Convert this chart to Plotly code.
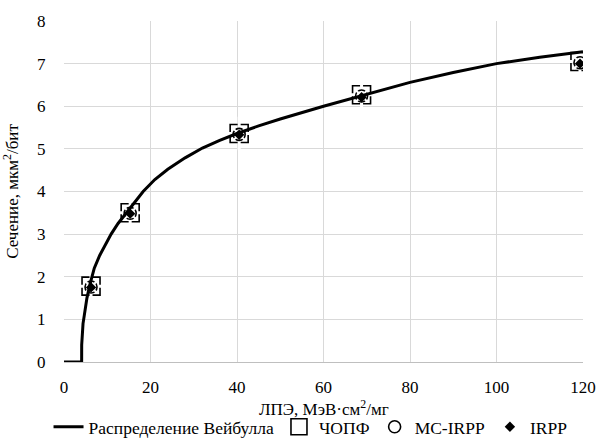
import plotly.graph_objects as go

# Weibull curve points
curve_x = [0, 4.08, 4.09, 4.2, 4.4, 4.7, 5.3, 6.0, 7.0, 8.25, 9.5, 10.9, 12.5, 14.4, 16.3, 18.3,
           21, 24, 28, 32, 36, 40, 45, 50, 60, 70, 80, 90, 100, 110, 120]
curve_y = [0, 0, 0.4, 0.7, 0.9, 1.1, 1.5, 1.82, 2.2, 2.5, 2.75, 3.0, 3.25, 3.5, 3.75, 4.0,
           4.28, 4.52, 4.79, 5.02, 5.2, 5.36, 5.54, 5.70, 6.0, 6.28, 6.56, 6.79, 7.0, 7.15, 7.28]

let_x = [6.25, 15.3, 40.5, 68.8, 119.3]
chopf_y = [1.78, 3.50, 5.36, 6.27, 7.05]
mc_irpp_y = [1.76, 3.49, 5.34, 6.24, 7.02]
irpp_y = [1.75, 3.48, 5.33, 6.21, 7.00]

x_ticks = [0, 20, 40, 60, 80, 100, 120]
y_ticks = [0, 1, 2, 3, 4, 5, 6, 7, 8]

x_title = "ЛПЭ, МэВ·см<sup>2</sup>/мг"
y_title = "Сечение, мкм<sup>2</sup>/бит"

FONT = "Liberation Serif, Times New Roman, serif"

fig = go.Figure()

# ЧОПФ: dashed square (square outline broken by white cross)
fig.add_trace(go.Scatter(x=let_x, y=chopf_y, mode="markers", name="ЧОПФ", legendrank=2,
                         marker=dict(symbol="square-open", size=18, color="black",
                                     line=dict(width=1.6, color="black"))))
fig.add_trace(go.Scatter(x=let_x, y=chopf_y, mode="markers", showlegend=False, hoverinfo="skip",
                         marker=dict(symbol="cross-thin", size=24, color="white",
                                     line=dict(width=3, color="white"))))
# MC-IRPP: dashed circle
fig.add_trace(go.Scatter(x=let_x, y=mc_irpp_y, mode="markers", name="MC-IRPP", legendrank=3,
                         marker=dict(symbol="circle-open", size=12, color="black",
                                     line=dict(width=1.6, color="black"))))
fig.add_trace(go.Scatter(x=let_x, y=mc_irpp_y, mode="markers", showlegend=False, hoverinfo="skip",
                         marker=dict(symbol="x-thin", size=12, color="white",
                                     line=dict(width=2, color="white"))))
# IRPP: filled diamond
fig.add_trace(go.Scatter(x=let_x, y=irpp_y, mode="markers", name="IRPP", legendrank=4,
                         marker=dict(symbol="diamond", size=8, color="black")))
# Weibull curve
fig.add_trace(go.Scatter(x=curve_x, y=curve_y, mode="lines", name="Распределение Вейбулла",
                         legendrank=1, line=dict(color="black", width=3)))

fig.update_layout(
    width=599, height=441,
    margin=dict(l=64, r=16, t=21, b=79, autoexpand=False),
    paper_bgcolor="white", plot_bgcolor="white",
    font=dict(family=FONT, size=17, color="black"),
    showlegend=True,
    legend=dict(orientation="h", x=0.475, xanchor="center", yref="container", y=0.032, yanchor="middle",
                font=dict(family=FONT, size=17.5), itemwidth=30, tracegroupgap=0,
                bgcolor="rgba(0,0,0,0)"),
    xaxis=dict(range=[0, 120], tickvals=x_ticks, showgrid=True, gridcolor="#d9d9d9", gridwidth=1,
               zeroline=False, showline=True, linecolor="#bfbfbf", linewidth=1,
               ticks="outside", ticklen=10, tickcolor="rgba(0,0,0,0)", automargin=False),
    yaxis=dict(range=[0, 8], tickvals=y_ticks, showgrid=True, gridcolor="#d9d9d9", gridwidth=1,
               zeroline=False, showline=False,
               ticks="outside", ticklen=14, tickcolor="rgba(0,0,0,0)", automargin=False,
               title=dict(text=y_title, standoff=14, font=dict(family=FONT, size=17))),
    annotations=[dict(text=x_title, xref="paper", yref="paper", x=0.5, y=-0.135,
                      xanchor="center", yanchor="middle", showarrow=False,
                      font=dict(family=FONT, size=17))],
)

fig.write_html("out.html")
